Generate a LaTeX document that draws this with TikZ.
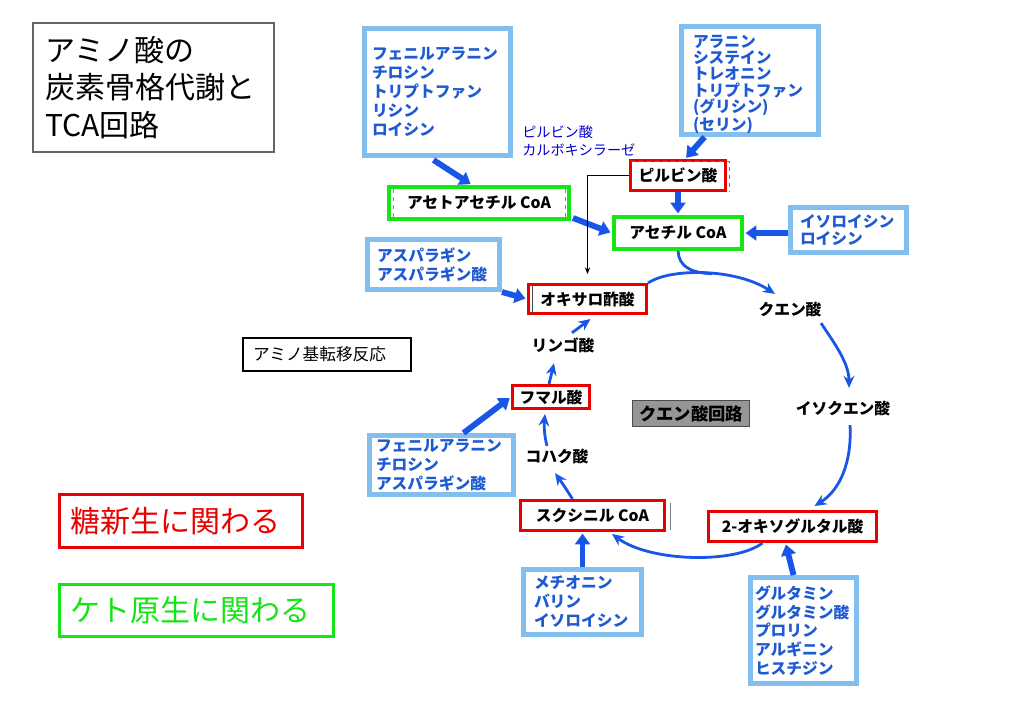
\documentclass[tikz,border=0pt]{standalone}
\usepackage{fontspec}
\setmainfont{Noto Sans CJK JP}
\usetikzlibrary{arrows.meta,calc}
\newdimen\pxlen \pxlen=0.75pt
\definecolor{aaframe}{RGB}{130,190,238}
\definecolor{aatext}{RGB}{30,90,210}
\definecolor{flowblue}{RGB}{25,85,230}
\definecolor{glured}{RGB}{235,0,0}
\definecolor{ketogreen}{RGB}{20,230,20}
\definecolor{enzblue}{RGB}{0,0,205}
\definecolor{cyclegray}{RGB}{150,150,152}

\begin{document}
\begin{tikzpicture}[x=0.75pt,y=-0.75pt,
  aabox/.style={draw=aaframe,line width=3.75pt,text=aatext,align=left,inner ysep=0pt,
    font=\fontsize{11.8}{14.25}\selectfont\bfseries},
  redbox/.style={draw=glured,line width=2.6pt,fill=white,inner sep=0pt,
    font=\fontsize{11.8}{14}\selectfont\bfseries},
  greenbox/.style={draw=ketogreen,line width=3pt,fill=white,inner sep=0pt,
    font=\fontsize{11.8}{14}\selectfont\bfseries},
  metab/.style={inner sep=1pt,font=\fontsize{11.8}{14}\selectfont\bfseries},
  bigarr/.style={flowblue,line width=4.4pt,shorten >=1.2pt,-{Triangle[length=8pt,width=11pt]}},
  cycarr/.style={flowblue,line width=2.1pt,-{Stealth[length=9pt,width=8pt]}},
  pointer/.style={black,line width=0.6pt,-{Stealth[length=5pt,width=4pt]}}]
\useasboundingbox (0,0) rectangle (1023,708);

% title and legend
\node[draw=black!60,line width=0.8pt,align=left,font=\fontsize{22.5}{28.1}\selectfont,
  minimum width=241\pxlen,minimum height=129\pxlen,text width=217\pxlen,inner xsep=12\pxlen]
  (title) at (153.5,87.5) {アミノ酸の\\炭素骨格代謝と\\TCA回路};
\node[draw,line width=0.8pt,align=left,font=\fontsize{12.5}{15}\selectfont,
  minimum width=168\pxlen,minimum height=33\pxlen,text width=148\pxlen,inner xsep=10\pxlen]
  (trans) at (327,354.5) {アミノ基転移反応};
\node[draw=glured,line width=2.8pt,text=glured,align=left,font=\fontsize{22.5}{27}\selectfont,
  minimum width=243\pxlen,minimum height=53\pxlen,text width=222\pxlen,inner xsep=10.5\pxlen]
  (gluco) at (181,521) {糖新生に関わる};
\node[draw=ketogreen,line width=2.8pt,text=ketogreen,align=left,font=\fontsize{22.5}{27}\selectfont,
  minimum width=274\pxlen,minimum height=52\pxlen,text width=253\pxlen,inner xsep=10.5\pxlen]
  (keto) at (196.5,610.5) {ケト原生に関わる};

% amino acid boxes
\node[aabox,minimum width=146\pxlen,minimum height=127\pxlen,text width=131\pxlen,inner xsep=7.5\pxlen]
  (aa1) at (437.5,92) {フェニルアラニン\\チロシン\\トリプトファン\\リシン\\ロイシン};
\node[aabox,font=\fontsize{11.8}{12.2}\selectfont\bfseries,
  minimum width=137\pxlen,minimum height=108\pxlen,text width=114\pxlen,inner xsep=11.5\pxlen]
  (aa2) at (750,80.5) {\rule{0pt}{1.25em}アラニン\\システイン\\トレオニン\\トリプトファン\\(グリシン)\\(セリン)};
\node[aabox,font=\fontsize{11.8}{12.75}\selectfont\bfseries,
  minimum width=116\pxlen,minimum height=45\pxlen,text width=97\pxlen,inner xsep=9.5\pxlen]
  (aa3) at (848.5,230) {イソロイシン\\ロイシン};
\node[aabox,minimum width=132\pxlen,minimum height=50\pxlen,text width=113\pxlen,inner xsep=9.5\pxlen]
  (aa4) at (433.5,264.5) {アスパラギン\\アスパラギン酸};
\node[aabox,minimum width=144\pxlen,minimum height=59\pxlen,text width=131\pxlen,inner xsep=6.5\pxlen]
  (aa5) at (441.5,465) {フェニルアラニン\\チロシン\\アスパラギン酸};
\node[aabox,minimum width=118\pxlen,minimum height=65\pxlen,text width=97\pxlen,inner xsep=10.5\pxlen]
  (aa6) at (582.5,602) {メチオニン\\バリン\\イソロイシン};
\node[aabox,font=\fontsize{11.8}{14.06}\selectfont\bfseries,
  minimum width=106\pxlen,minimum height=106\pxlen,text width=97\pxlen,inner xsep=4.5\pxlen]
  (aa7) at (803.5,630.5) {グルタミン\\グルタミン酸\\プロリン\\アルギニン\\ヒスチジン};

% metabolites
\node[redbox,minimum width=94.5\pxlen,minimum height=29.5\pxlen] (pyr) at (678,175.5) {ピルビン酸};
\node[greenbox,minimum width=180\pxlen,minimum height=32\pxlen] (acac) at (479,203) {アセトアセチル CoA};
\node[greenbox,minimum width=128\pxlen,minimum height=32\pxlen] (acoa) at (678,233) {アセチル CoA};
\node[redbox,minimum width=117.5\pxlen,minimum height=28.5\pxlen] (oaa) at (587.5,299) {オキサロ酢酸};
\node[redbox,minimum width=76.5\pxlen,minimum height=22.5\pxlen] (fum) at (551,397) {フマル酸};
\node[redbox,minimum width=143.5\pxlen,minimum height=29.5\pxlen] (succoa) at (592.5,515.5) {スクシニル CoA};
\node[redbox,minimum width=167.5\pxlen,minimum height=29.5\pxlen] (akg) at (792.5,526.5) {2-オキソグルタル酸};
\node[metab] (cit) at (790,309) {クエン酸};
\node[metab] (icit) at (843,408) {イソクエン酸};
\node[metab] (mal) at (563,345) {リンゴ酸};
\node[metab] (suc) at (557,456) {コハク酸};
\node[draw=black!70,line width=1pt,fill=cyclegray,inner sep=0pt,font=\fontsize{13}{15}\selectfont\bfseries,
  minimum width=117\pxlen,minimum height=26\pxlen] (tca) at (691,413.5) {クエン酸回路};
\node[text=enzblue,align=left,anchor=west,inner sep=0pt,font=\fontsize{10.6}{13.5}\selectfont]
  (pcx) at (522,141) {ピルビン酸\\カルボキシラーゼ};

% scan marks inside boxes
\draw[black!55,dashed,line width=.8pt] ($(pyr.north west)+(1.5,2.8)$) -| ($(pyr.south east)+(2.3,0)$);
\draw[black!45,dashed,line width=.6pt] ($(acac.north west)+(6,4)$) -- ($(acac.south west)+(6,-4)$);
\draw[black!45,dashed,line width=.6pt] ($(acac.north east)+(-6,4)$) -- ($(acac.south east)+(-6,-4)$);
\draw[black!70,line width=.6pt] ($(oaa.north west)+(5,2)$) -- ($(oaa.south west)+(5,-2)$);
\draw[black!70,line width=.4pt,double,double distance=.8pt] ($(succoa.north west)+(5,3)$) -- ($(succoa.south west)+(5,-3)$);
\draw[black!50,line width=.6pt] ($(succoa.north east)+(4,4)$) -- ($(succoa.south east)+(4,-2)$);

% amino acids in
\draw[bigarr] ($(aa1.south)+(-4,2)$) -- ($(acac.north)+(-7,0)$);
\draw[bigarr] ($(acac.south east)+(2,-3)$) -- (acoa.west);
\draw[bigarr] ($(aa2.south west)!.18!(aa2.south east)$) -- ($(pyr.north)+(7,0)$);
\draw[bigarr] (pyr.south) -- (acoa.north);
\draw[bigarr] (aa3.west |- acoa.east) -- (acoa.east);
\draw[bigarr] (aa4.south east) -- (oaa.west);
\draw[bigarr] ($(aa5.north)+(22,0)$) -- (fum.west);
\draw[bigarr] (aa6.north) -- (aa6.north |- succoa.south);
\draw[bigarr] ($(aa7.north)+(-10,0)$) -- ($(akg.south)+(-7,0)$);
\draw[pointer] (pyr.west) -| ($(oaa.north)+(0,-9)$);

% TCA cycle
\draw[cycarr] (oaa.north east) .. controls (670,268) and (735,268) .. ($(cit.north)+(-15,-6)$) coordinate[pos=.55] (join);
\draw[flowblue,line width=2.1pt] (acoa.south) .. controls (679,266) and (690,273) .. (join);
\draw[cycarr] ($(cit.south east)+(-2,5)$) .. controls (832,340) and (849,362) .. ($(icit.north)+(6,-11)$);
\draw[cycarr] ($(icit.south)+(7,8)$) .. controls (852,462) and (840,490) .. ($(akg.north)+(22,-4)$);
\draw[cycarr] ($(akg.south)+(-30,0)$) .. controls (735,564) and (650,562) .. ($(succoa.south east)+(-54,2)$);
\draw[cycarr] ($(succoa.north)+(-20,0)$) .. controls (565,487) and (560,480) .. ($(suc.south)+(-2,8)$);
\draw[cycarr] ($(suc.north)+(-10,-1)$) .. controls (544,435) and (544,424) .. ($(fum.south)+(-6,4)$);
\draw[cycarr] ($(fum.north)+(-2,0)$) -- ($(mal.south)+(-9,9)$);
\draw[cycarr] ($(mal.north)+(9,-3)$) -- ($(oaa.south)+(3,4)$);
\end{tikzpicture}
\end{document}
